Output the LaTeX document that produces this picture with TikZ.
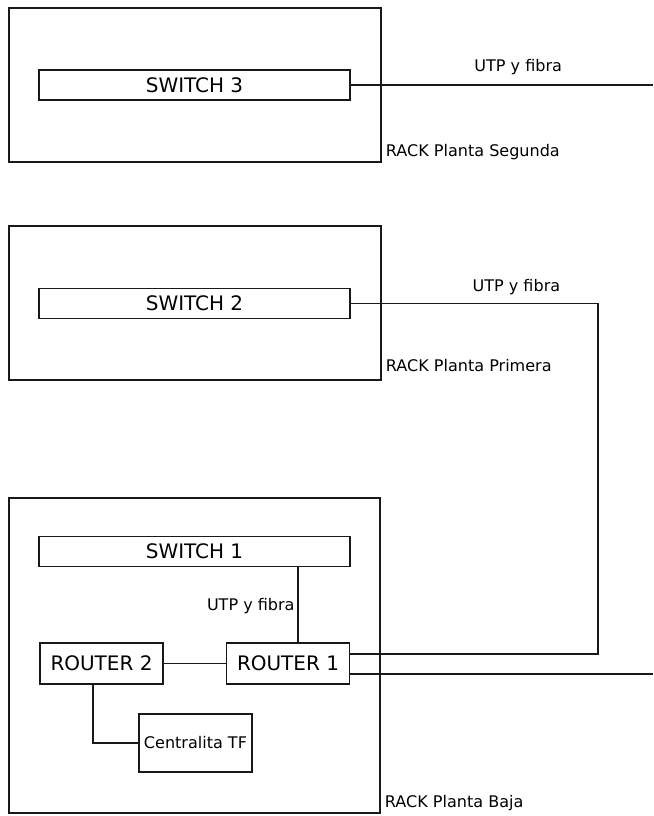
\documentclass[tikz,border=0pt]{standalone}
\usepackage{fontspec}
\setmainfont{DejaVu Sans}
\usetikzlibrary{calc}
\tikzset{every node/.style={font=\fontsize{11.4}{13}\selectfont},
  link/.style={line width=.9pt,draw=black!90},
  rack/.style={draw=black!90,line width=.9pt,minimum width=9.3cm},
  swbox/.style={draw=black!90,line width=.9pt,minimum width=7.775cm,minimum height=.75cm,font=\fontsize{14.2}{17}\selectfont},
  rtbox/.style={draw=black!90,line width=.9pt,minimum width=3.075cm,minimum height=1.025cm,font=\fontsize{14.2}{17}\selectfont},
  tfbox/.style={draw=black!90,line width=.9pt,minimum width=2.825cm,minimum height=1.45cm},
  racklbl/.style={anchor=base west,inner sep=0pt},
  cablelbl/.style={anchor=base,inner sep=0pt}}

\begin{document}
\begin{tikzpicture}[x=.025cm,y=-.025cm]
\useasboundingbox (0,0) rectangle (653,816);
% racks
\node[rack,minimum height=3.85cm] (rack3) at (195,85){};\node[racklbl] (lbl3) at ([shift={(.1cm,.15cm)}]rack3.south east){RACK Planta Segunda};
\node[rack,minimum height=3.85cm] (rack2) at (195,303){};\node[racklbl] (lbl2) at ([shift={(.1cm,.22cm)}]rack2.south east){RACK Planta Primera};
\node[rack,minimum height=7.875cm,minimum width=9.275cm] (rack1) at (194.5,655.5){};\node[racklbl] (lbl1) at ([shift={(.1cm,.15cm)}]rack1.south east){RACK Planta Baja};
% equipos
\node[swbox] (sw3) at (194.5,85){SWITCH 3};
\node[swbox] (sw2) at (194.5,303.5){SWITCH 2};
\node[swbox] (sw1) at (194.5,551.5){SWITCH 1};
\node[rtbox] (r2) at (101.5,663.5){ROUTER 2};\node[rtbox] (r1) at (288,663.5){ROUTER 1};
\node[tfbox] (tf) at (195.5,743){Centralita TF};
% cableado
\coordinate (edge) at (653,0);\coordinate (riser) at (598,0);
\draw[link] (sw3.east) -- node[cablelbl,pos=.554,yshift=.33cm]{UTP y fibra} (sw3 -| edge);
\draw[link] (sw2.east) -- node[cablelbl,pos=.67,yshift=.31cm]{UTP y fibra} (sw2 -| riser) |- ([yshift=.24cm]r1.east);
\draw[link] ([yshift=-.26cm]r1.east) coordinate (r1b) -- (r1b -| edge);
\draw[link] ([xshift=.25cm]r1.north) coordinate (r1t) -- node[left,inner sep=2pt,pos=.48]{UTP y fibra} (r1t |- sw1.south);
\draw[link] (r2) -- (r1);
\draw[link] ([xshift=-.21cm]r2.south) |- (tf.west);
\end{tikzpicture}
\end{document}
